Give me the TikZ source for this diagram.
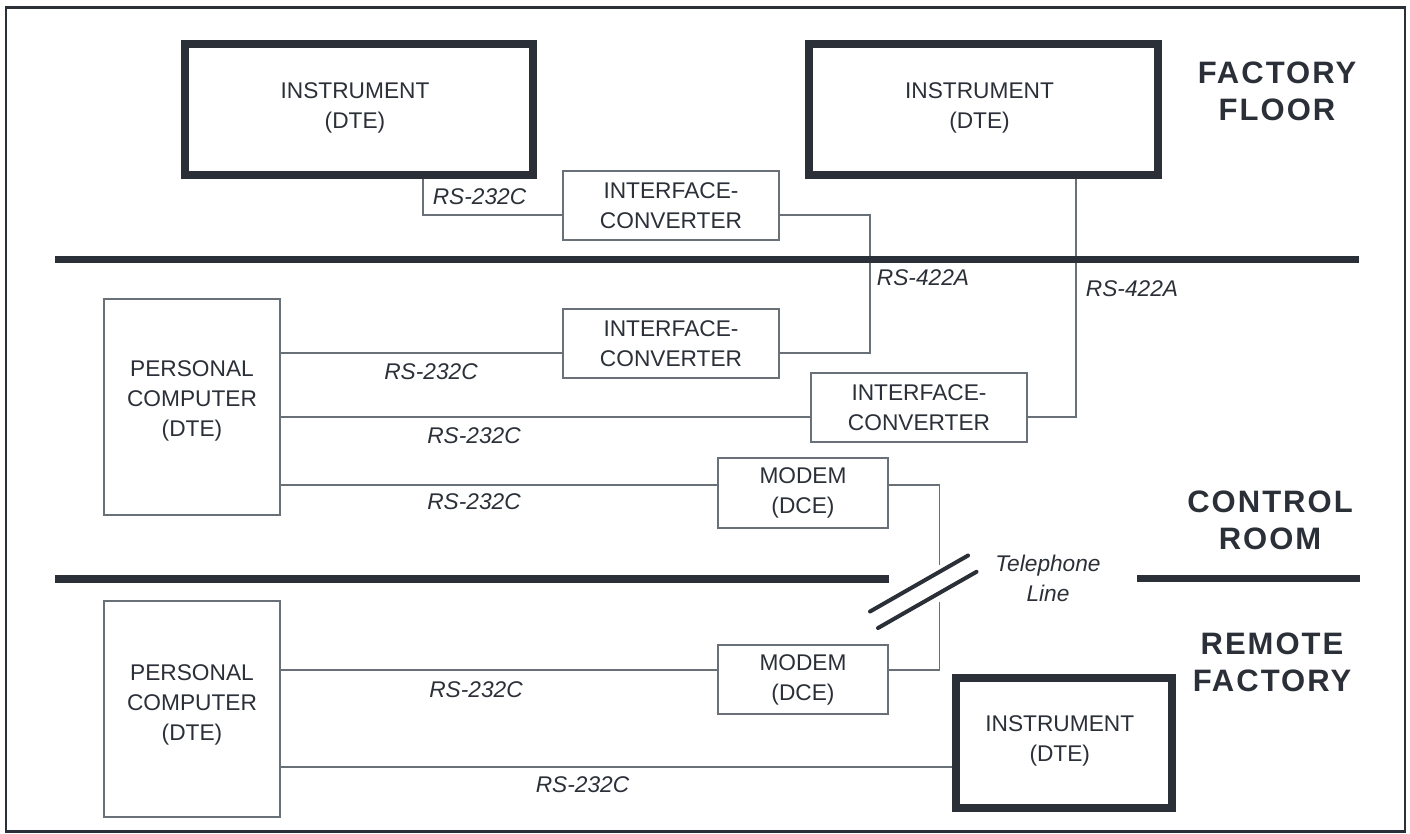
\documentclass[tikz,border=0pt]{standalone}
\usepackage{fontspec}
\setmainfont{Liberation Sans}
\usetikzlibrary{calc}
\definecolor{ink}{RGB}{43,48,56}
\definecolor{wire}{RGB}{105,112,120}
\pgfdeclarelayer{bg}
\pgfsetlayers{bg,main}
\begin{document}
\begin{tikzpicture}[x=1pt,y=-1pt,
  every node/.style={font=\fontsize{22.7}{30}\selectfont, text=ink, inner sep=0pt, outer sep=0pt},
  thickbox/.style={draw=ink, line width=8pt, rectangle},
  thinbox/.style={draw=wire, line width=1.3pt, rectangle, align=center},
  boxtxt/.style={align=center},
  wirel/.style={draw=wire, line width=1.3pt},
  sig/.style={font=\fontsize{22.7}{30}\selectfont\itshape},
  region/.style={align=center, font=\fontsize{31}{37}\selectfont\bfseries\addfontfeature{LetterSpace=6.5}},
  divider/.style={draw=ink, line width=7.5pt},
  slash/.style={draw=ink, line width=4pt, line cap=round}
]
\useasboundingbox (0,0) rectangle (1410,833);

% frame
\draw[ink, line width=2.6pt] (6,7.5) rectangle (1405,831.5);

% instruments
\node[thickbox, minimum width=348pt, minimum height=131pt,
  label={[boxtxt,xshift=-4pt,yshift=2pt]center:{INSTRUMENT\\(DTE)}}] (ins1) at (359,109.5) {};
\node[thickbox, minimum width=349pt, minimum height=131pt,
  label={[boxtxt,xshift=-4pt,yshift=2pt]center:{INSTRUMENT\\(DTE)}}] (ins2) at (983.5,109.5) {};
\node[thickbox, minimum width=215.5pt, minimum height=130pt,
  label={[boxtxt,xshift=-4pt,yshift=2pt]center:{INSTRUMENT\\(DTE)}}] (ins3) at (1063.75,743) {};

% converters and modems
\node[thinbox, minimum width=216pt, minimum height=69pt] (conv1) at (671,205.5) {INTERFACE-\\CONVERTER};
\node[thinbox, minimum width=216pt, minimum height=69pt] (conv2) at (671,343.5) {INTERFACE-\\CONVERTER};
\node[thinbox, minimum width=216pt, minimum height=69pt] (conv3) at (919,407.5) {INTERFACE-\\CONVERTER};
\node[thinbox, minimum width=170pt, minimum height=70pt] (modem1) at (803,493) {MODEM\\(DCE)};
\node[thinbox, minimum width=170pt, minimum height=69pt] (modem2) at (803,679.5) {MODEM\\(DCE)};

% personal computers
\node[thinbox, minimum width=176pt, minimum height=216pt,
  label={[boxtxt,yshift=5.6pt]center:{PERSONAL\\COMPUTER\\(DTE)}}] (pc1) at (192,407) {};
\node[thinbox, minimum width=176pt, minimum height=216pt,
  label={[boxtxt,yshift=3.6pt]center:{PERSONAL\\COMPUTER\\(DTE)}}] (pc2) at (192,709) {};

% junction coordinates
\coordinate (k1) at (423,215);
\coordinate (k2) at (870,215);
\coordinate (k3) at (870,353);
\coordinate (k4) at (1076,417);
\coordinate (k5) at (939.5,485);
\coordinate (t1) at (939.5,565);
\coordinate (t2) at (939.5,602);
\coordinate (k6) at (939.5,670);
\coordinate (k7) at (600,767);

\begin{pgfonlayer}{bg}
\draw[wirel] (ins1.south -| k1) -- (k1) -- (conv1.west |- k1);
\draw[wirel] (conv1.east |- k2) -- (k2) -- (k3) -- (conv2.east |- k3);
\draw[wirel] (pc1.east |- k3) -- (conv2.west |- k3);
\draw[wirel] (ins2.south -| k4) -- (k4) -- (conv3.east |- k4);
\draw[wirel] (pc1.east |- k4) -- (conv3.west |- k4);
\draw[wirel] (pc1.east |- k5) -- (modem1.west |- k5);
\draw[wirel] (modem1.east |- k5) -- (k5) -- (t1);
\draw[wirel] (t2) -- (k6) -- (modem2.east |- k6);
\draw[wirel] (pc2.east |- k6) -- (modem2.west |- k6);
\draw[wirel] (pc2.east |- k7) -- (ins3.west |- k7);
\end{pgfonlayer}

% dividers
\draw[divider] (55,259.5) -- (1359,259.5);
\draw[divider] (55,579) -- (888.5,579);
\draw[divider] (1137,578.5) -- (1360,578.5);

% telephone line break
\draw[slash] (870,611.5) -- (968,555.5);
\draw[slash] (878,628) -- (976.5,571.8);

% region labels
\node[region] (ff) at (1277,91.5) {FACTORY\\FLOOR};
\node[region] (cr) at (1270,520) {CONTROL\\ROOM};
\node[region] (rf) at (1272,662.5) {REMOTE\\FACTORY};

% signal labels
\node[sig] (s1) at (479.5,197) {RS-232C};
\node[sig] (s2) at (923,277.5) {RS-422A};
\node[sig] (s3) at (1132,288.5) {RS-422A};
\node[sig] (s4) at (431,372) {RS-232C};
\node[sig] (s5) at (474,436) {RS-232C};
\node[sig] (s6) at (474,502) {RS-232C};
\node[sig] (s7) at (476,690) {RS-232C};
\node[sig] (s8) at (582.5,785) {RS-232C};
\node[sig, align=center] (tel) at (1048,578.5) {Telephone\\Line};
\end{tikzpicture}
\end{document}
